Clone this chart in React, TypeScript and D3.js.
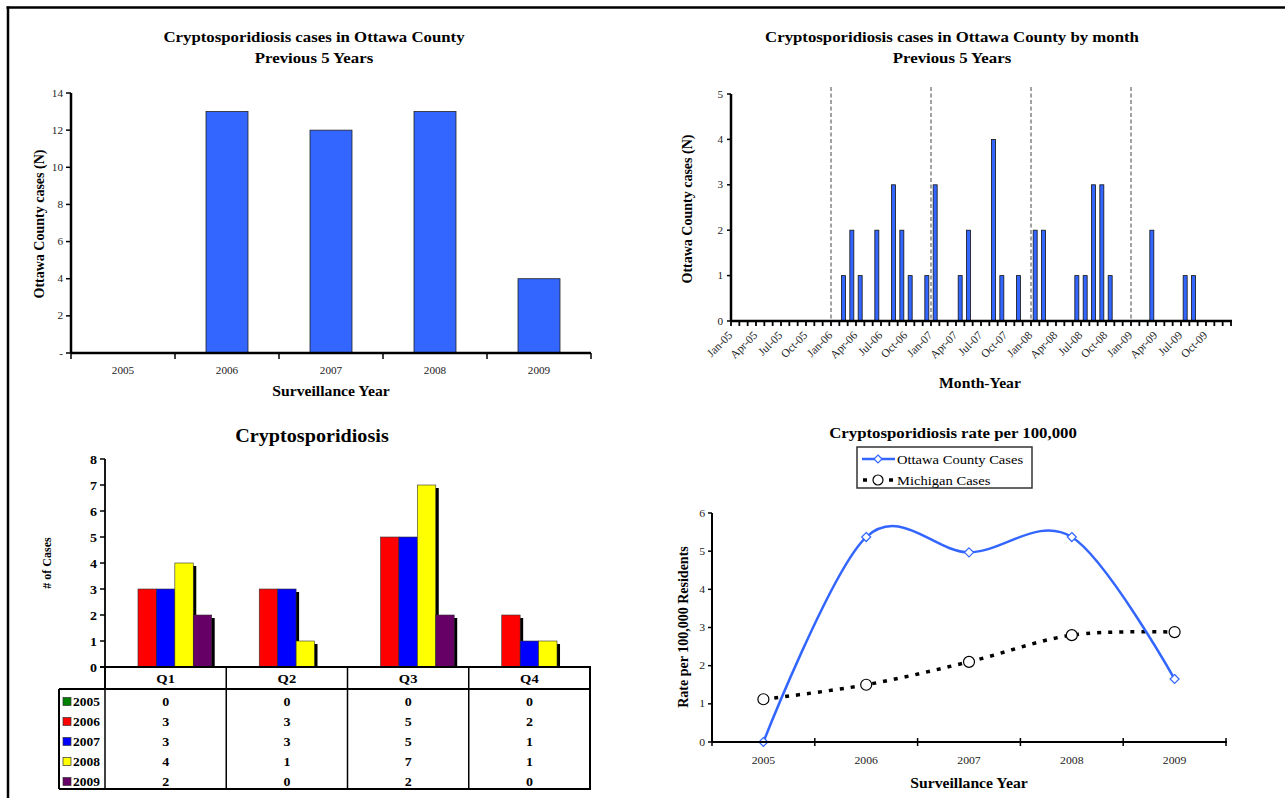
import React from 'react';
import * as d3 from 'd3';

const FONT = '"Liberation Serif", "Times New Roman", Times, serif';

// ---------- Data ----------
const years = ['2005', '2006', '2007', '2008', '2009'];
const annualCases = [0, 13, 12, 13, 4];
const annualTicks = [0, 2, 4, 6, 8, 10, 12, 14];

const monthNames = ['Jan', 'Feb', 'Mar', 'Apr', 'May', 'Jun', 'Jul', 'Aug', 'Sep', 'Oct', 'Nov', 'Dec'];
const monthlyCases2005 = [0, 0, 0, 0, 0, 0, 0, 0, 0, 0, 0, 0];
const monthlyCases2006 = [0, 1, 2, 1, 0, 2, 0, 3, 2, 1, 0, 1];
const monthlyCases2007 = [3, 0, 0, 1, 2, 0, 0, 4, 1, 0, 1, 0];
const monthlyCases2008 = [2, 2, 0, 0, 0, 1, 1, 3, 3, 1, 0, 0];
const monthlyCases2009 = [0, 0, 2, 0, 0, 0, 1, 1, 0, 0, 0, 0];
const monthlyTicks = [0, 1, 2, 3, 4, 5];

const quarters = ['Q1', 'Q2', 'Q3', 'Q4'];
const quarterly2005 = [0, 0, 0, 0];
const quarterly2006 = [3, 3, 5, 2];
const quarterly2007 = [3, 3, 5, 1];
const quarterly2008 = [4, 1, 7, 1];
const quarterly2009 = [2, 0, 2, 0];
const quarterlyColors = ['#008000', '#FF0000', '#0000FF', '#FFFF00', '#660066'];
const quarterlyTicks = [0, 1, 2, 3, 4, 5, 6, 7, 8];

const ottawaRate = [0, 5.37, 4.97, 5.37, 1.65];
const michiganRate = [1.12, 1.5, 2.1, 2.8, 2.88];
const rateTicks = [0, 1, 2, 3, 4, 5, 6];

const BLUE = '#3366FF';
const SX = 1.12;

type TProps = { x: number; y: number; size: number; bold?: boolean; anchor?: 'start' | 'middle' | 'end'; fill?: string; children: React.ReactNode };
function T({ x, y, size, bold, anchor = 'start', fill = '#000', children }: TProps) {
  return (
    <text transform={`translate(${x},${y}) scale(${SX},1)`} textAnchor={anchor} fontSize={size} fontWeight={bold ? 'bold' : 'normal'} fill={fill}>
      {children}
    </text>
  );
}

// ---------- Chart 1: annual bars ----------
function AnnualChart() {
  const x = d3.scaleBand().domain(years).range([71, 591]);
  const y = d3.scaleLinear().domain([0, 14]).range([353, 93]);
  const bw = 42;
  return (
    <g>
      <T x={314} y={42} anchor="middle" bold size={15}>Cryptosporidiosis cases in Ottawa County</T>
      <T x={314} y={63} anchor="middle" bold size={15}>Previous 5 Years</T>
      {annualCases.map((v, i) => {
        const cx = x(years[i])! + x.bandwidth() / 2;
        if (v === 0) return null;
        return <rect key={i} x={cx - bw / 2} y={y(v)} width={bw} height={y(0) - y(v)} fill={BLUE} stroke="#222" strokeWidth={0.8} />;
      })}
      <line x1={71} x2={71} y1={y(14)} y2={y(0)} stroke="#000" strokeWidth={2.5} />
      {annualTicks.map(t => (
        <g key={t}>
          <line x1={66} x2={71} y1={y(t)} y2={y(t)} stroke="#000" strokeWidth={1.5} />
          <T x={63} y={y(t) + 3.5} anchor="end" size={10} fill="#222">{t === 0 ? '-' : t}</T>
        </g>
      ))}
      <line x1={71} x2={591} y1={y(0)} y2={y(0)} stroke="#000" strokeWidth={2.5} />
      {years.map((yr, i) => (
        <line key={'t' + i} x1={x(yr)!} x2={x(yr)!} y1={y(0)} y2={y(0) + 6} stroke="#000" strokeWidth={1.5} />
      ))}
      <line x1={591} x2={591} y1={y(0)} y2={y(0) + 6} stroke="#000" strokeWidth={1.5} />
      {years.map(yr => (
        <T key={yr} x={x(yr)! + x.bandwidth() / 2} y={374} anchor="middle" size={10} fill="#222">{yr}</T>
      ))}
      <T x={331} y={396} anchor="middle" bold size={14}>Surveillance Year</T>
      <text transform="translate(44,224) rotate(-90)" textAnchor="middle" fontWeight="bold" fontSize={14}>Ottawa County cases (N)</text>
    </g>
  );
}

// ---------- Chart 2: monthly bars ----------
function MonthlyChart() {
  const all = [...monthlyCases2005, ...monthlyCases2006, ...monthlyCases2007, ...monthlyCases2008, ...monthlyCases2009];
  const labels: string[] = [];
  years.forEach(yr => monthNames.forEach(m => labels.push(`${m}-${yr.slice(2)}`)));
  const x = d3.scaleBand().domain(labels).range([731, 1231]);
  const y = d3.scaleLinear().domain([0, 5]).range([321, 94]);
  const bw = 4;
  const y0 = y(0);
  return (
    <g>
      <T x={952} y={42} anchor="middle" bold size={15}>Cryptosporidiosis cases in Ottawa County by month</T>
      <T x={952} y={63} anchor="middle" bold size={15}>Previous 5 Years</T>
      {[1, 2, 3, 4].map(k => {
        const xx = x(labels[k * 12])!;
        return <line key={k} x1={xx} x2={xx} y1={87} y2={y0} stroke="#444" strokeWidth={1} strokeDasharray="4,2.5" />;
      })}
      {all.map((v, i) => {
        if (v === 0) return null;
        const cx = x(labels[i])! + x.bandwidth() / 2;
        return <rect key={i} x={cx - bw / 2} y={y(v)} width={bw} height={y0 - y(v)} fill={BLUE} stroke="#111" strokeWidth={0.8} />;
      })}
      <line x1={731} x2={731} y1={y(5)} y2={y0} stroke="#000" strokeWidth={2.5} />
      {monthlyTicks.map(t => (
        <g key={t}>
          <line x1={727} x2={731} y1={y(t)} y2={y(t)} stroke="#000" strokeWidth={1.5} />
          <T x={723} y={y(t) + 3.5} anchor="end" size={10} fill="#222">{t}</T>
        </g>
      ))}
      <line x1={731} x2={1232} y1={y0} y2={y0} stroke="#000" strokeWidth={2.5} />
      {labels.map((l, i) => (
        <line key={'t' + i} x1={x(l)!} x2={x(l)!} y1={y0} y2={y0 + 5} stroke="#000" strokeWidth={1.8} />
      ))}
      <line x1={1231} x2={1231} y1={y0} y2={y0 + 5} stroke="#000" strokeWidth={1.8} />
      {labels.map((l, i) => (i % 3 === 0 ? (
        <text key={l} transform={`translate(${x(l)! + x.bandwidth() / 2 - 2},${336}) rotate(-45)`} textAnchor="end" fontSize={11.5} fill="#222">{l}</text>
      ) : null))}
      <T x={980} y={388} anchor="middle" bold size={14}>Month-Year</T>
      <text transform="translate(692,209) rotate(-90)" textAnchor="middle" fontWeight="bold" fontSize={14}>Ottawa County cases (N)</text>
    </g>
  );
}

// ---------- Chart 3: quarterly grouped bars with data table ----------
function QuarterlyChart() {
  const series = [quarterly2005, quarterly2006, quarterly2007, quarterly2008, quarterly2009];
  const x = d3.scaleBand().domain(quarters).range([105, 590]);
  const groupW = x.bandwidth() * 0.76;
  const inner = d3.scaleBand<number>().domain(d3.range(series.length)).range([0, groupW]);
  const y = d3.scaleLinear().domain([0, 8]).range([667, 459]);
  const y0 = y(0);
  const rowH = 20;
  const bodyTop = 689;
  return (
    <g>
      <T x={312} y={442} anchor="middle" bold size={18}>Cryptosporidiosis</T>
      {quarters.map((q, qi) => {
        const gx = x(q)! + (x.bandwidth() - groupW) / 2;
        return series.map((s, si) => {
          const v = s[qi];
          if (v === 0) return null;
          const bx = gx + inner(si)!;
          const h = y0 - y(v);
          return (
            <g key={`${qi}-${si}`}>
              <rect x={bx + 3} y={y(v) + 3} width={inner.bandwidth()} height={h - 3} fill="#000" />
              <rect x={bx} y={y(v)} width={inner.bandwidth()} height={h} fill={quarterlyColors[si]} stroke="#333" strokeWidth={0.6} />
            </g>
          );
        });
      })}
      <line x1={105} x2={105} y1={y(8)} y2={bodyTop} stroke="#000" strokeWidth={1.8} />
      {quarterlyTicks.map(t => (
        <g key={t}>
          <line x1={100} x2={105} y1={y(t)} y2={y(t)} stroke="#000" strokeWidth={1.5} />
          <T x={97} y={y(t) + 4.5} anchor="end" size={12.5} bold>{t}</T>
        </g>
      ))}
      <text transform="translate(51,563) rotate(-90)" textAnchor="middle" fontWeight="bold" fontSize={12}># of Cases</text>
      {/* table */}
      <line x1={100} x2={591} y1={y0} y2={y0} stroke="#000" strokeWidth={2} />
      <line x1={59} x2={591} y1={bodyTop} y2={bodyTop} stroke="#000" strokeWidth={2} />
      <line x1={59} x2={591} y1={bodyTop + rowH * 5} y2={bodyTop + rowH * 5} stroke="#000" strokeWidth={2} />
      <line x1={59} x2={59} y1={bodyTop} y2={bodyTop + rowH * 5} stroke="#000" strokeWidth={2} />
      {quarters.map(q => (
        <line key={'v' + q} x1={x(q)!} x2={x(q)!} y1={y0} y2={bodyTop + rowH * 5} stroke="#000" strokeWidth={1.5} />
      ))}
      <line x1={590} x2={590} y1={y0} y2={bodyTop + rowH * 5} stroke="#000" strokeWidth={2} />
      {quarters.map(q => (
        <T key={q} x={x(q)! + x.bandwidth() / 2} y={683} anchor="middle" bold size={13}>{q}</T>
      ))}
      {series.map((s, si) => {
        const cy = bodyTop + rowH * si + 16.5;
        return (
          <g key={'r' + si}>
            <rect x={63} y={cy - 8} width={8} height={8} fill={quarterlyColors[si]} stroke="#333" strokeWidth={0.7} />
            <T x={73} y={cy} bold size={12}>{years[si]}</T>
            {s.map((v, qi) => (
              <T key={qi} x={x(quarters[qi])! + x.bandwidth() / 2} y={cy} anchor="middle" bold size={12.5}>{v}</T>
            ))}
          </g>
        );
      })}
    </g>
  );
}

// ---------- Chart 4: rate lines ----------
function RateChart() {
  const x = d3.scaleBand().domain(years).range([712, 1226]);
  const y = d3.scaleLinear().domain([0, 6]).range([742, 513]);
  const cx = (i: number) => x(years[i])! + x.bandwidth() / 2;
  const line = d3.line<number>().x((_, i) => cx(i)).y(v => y(v)).curve(d3.curveCardinal.tension(0));
  const diamond = (px: number, py: number, r = 4) => `M${px},${py - r}L${px + r},${py}L${px},${py + r}L${px - r},${py}Z`;
  return (
    <g>
      <T x={953} y={438} anchor="middle" bold size={15}>Cryptosporidiosis rate per 100,000</T>
      <rect x={857} y={447} width={175} height={41} fill="#fff" stroke="#333" strokeWidth={1.5} />
      <line x1={862} x2={895} y1={459} y2={459} stroke={BLUE} strokeWidth={2.5} />
      <path d={diamond(878, 459)} fill="#fff" stroke={BLUE} strokeWidth={1.2} />
      <T x={897} y={463.5} size={13}>Ottawa County Cases</T>
      <line x1={862} x2={895} y1={480} y2={480} stroke="#000" strokeWidth={3.5} strokeDasharray="4,9" strokeDashoffset={-1} />
      <circle cx={878} cy={480} r={5} fill="#fff" stroke="#000" strokeWidth={1.2} />
      <T x={897} y={484.5} size={13}>Michigan Cases</T>

      <path d={line(michiganRate) || ''} fill="none" stroke="#000" strokeWidth={3.5} strokeDasharray="4,7" />
      <path d={line(ottawaRate) || ''} fill="none" stroke={BLUE} strokeWidth={2.5} />
      {michiganRate.map((v, i) => (
        <circle key={'m' + i} cx={cx(i)} cy={y(v)} r={5.5} fill="#fff" stroke="#000" strokeWidth={1.2} />
      ))}
      {ottawaRate.map((v, i) => (
        <path key={'o' + i} d={diamond(cx(i), y(v), 4.5)} fill="#fff" stroke={BLUE} strokeWidth={1.2} />
      ))}

      <line x1={712} x2={712} y1={y(6)} y2={y(0)} stroke="#000" strokeWidth={2} />
      {rateTicks.map(t => (
        <g key={t}>
          <line x1={708} x2={712} y1={y(t)} y2={y(t)} stroke="#000" strokeWidth={1.5} />
          <T x={705} y={y(t) + 3.5} anchor="end" size={10.5} fill="#222">{t}</T>
        </g>
      ))}
      <line x1={712} x2={1227} y1={y(0)} y2={y(0)} stroke="#000" strokeWidth={2} />
      {years.map(yr => (
        <line key={'t' + yr} x1={x(yr)!} x2={x(yr)!} y1={y(0) - 4} y2={y(0) + 4} stroke="#000" strokeWidth={1.5} />
      ))}
      <line x1={1226} x2={1226} y1={y(0) - 4} y2={y(0) + 4} stroke="#000" strokeWidth={1.5} />
      {years.map((yr, i) => (
        <T key={yr} x={cx(i)} y={764} anchor="middle" size={10.5} fill="#222">{yr}</T>
      ))}
      <T x={969} y={788} anchor="middle" bold size={14}>Surveillance Year</T>
      <text transform="translate(688,627) rotate(-90)" textAnchor="middle" fontWeight="bold" fontSize={14}>Rate per 100,000 Residents</text>
    </g>
  );
}

export default function App() {
  return (
    <svg width={1285} height={798} style={{ position: 'absolute', left: 0, top: 0, background: '#fff' }} fontFamily={FONT}>
      <rect x={0} y={0} width={1285} height={798} fill="#fff" />
      <line x1={6.5} x2={1285} y1={7.5} y2={7.5} stroke="#000" strokeWidth={2.5} />
      <line x1={8} x2={8} y1={6.5} y2={798} stroke="#000" strokeWidth={2.5} />
      <AnnualChart />
      <MonthlyChart />
      <QuarterlyChart />
      <RateChart />
    </svg>
  );
}
